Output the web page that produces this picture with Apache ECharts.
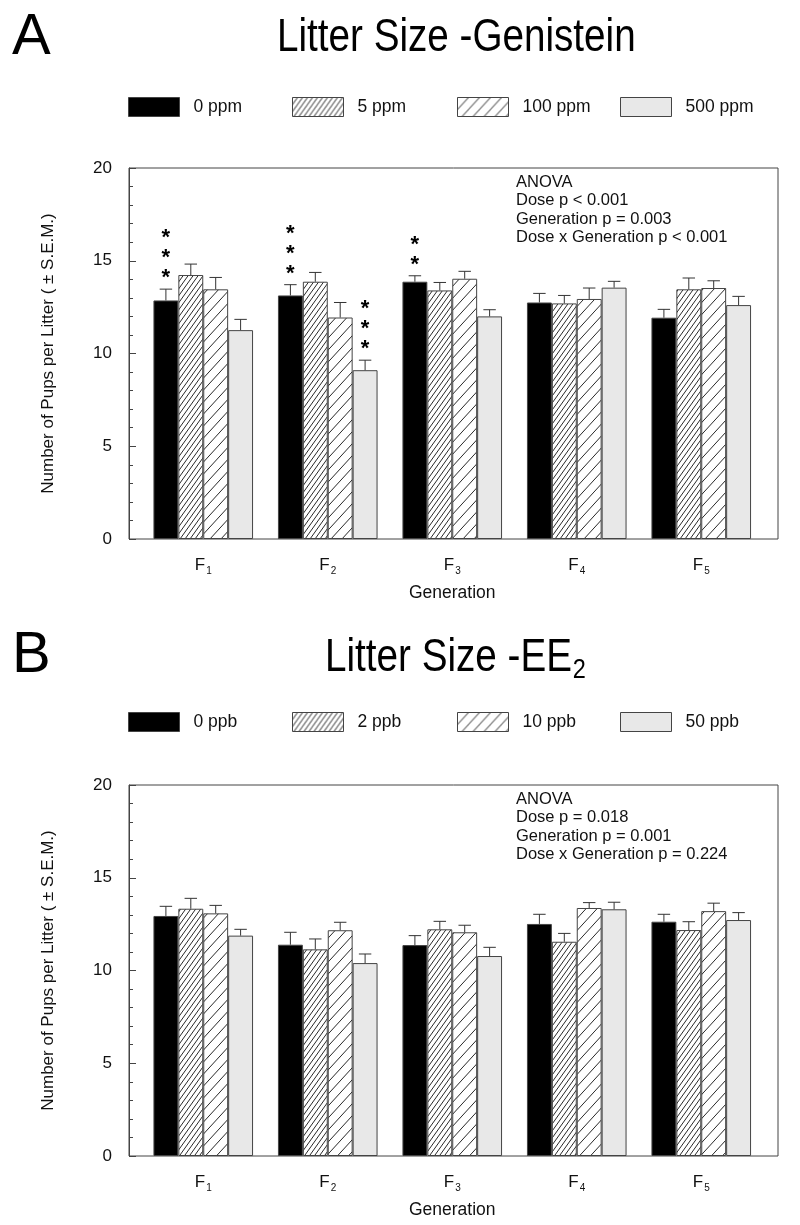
<!DOCTYPE html>
<html>
<head>
<meta charset="utf-8">
<script src="https://cdn.jsdelivr.net/npm/echarts@6/dist/echarts.min.js"></script>
<style>html,body{margin:0;padding:0;background:#fff}#c{width:800px;height:1225px}</style>
</head>
<body>
<div id="c"></div>
<script>
// ---------- data ----------
const categories = ['F1', 'F2', 'F3', 'F4', 'F5'];
const yTicks = [0, 5, 10, 15, 20];

// Panel A: Genistein
const namesA = ['0 ppm', '5 ppm', '100 ppm', '500 ppm'];
const meanA0 = [12.86, 13.13, 13.87, 12.75, 11.93];
const meanA5 = [14.23, 13.87, 13.40, 12.70, 13.46];
const meanA100 = [13.46, 11.94, 14.03, 12.94, 13.53];
const meanA500 = [11.26, 9.10, 12.00, 13.55, 12.61];
const semA0 = [0.61, 0.58, 0.32, 0.49, 0.45];
const semA5 = [0.59, 0.50, 0.43, 0.43, 0.61];
const semA100 = [0.64, 0.81, 0.40, 0.59, 0.39];
const semA500 = [0.58, 0.54, 0.36, 0.34, 0.47];
const starsA0 = [3, 3, 2, 0, 0];
const starsA5 = [0, 0, 0, 0, 0];
const starsA100 = [0, 0, 0, 0, 0];
const starsA500 = [0, 3, 0, 0, 0];
const anovaA = ['ANOVA', 'Dose p < 0.001', 'Generation p = 0.003', 'Dose x Generation p < 0.001'];

// Panel B: EE2
const namesB = ['0 ppb', '2 ppb', '10 ppb', '50 ppb'];
const meanB0 = [12.94, 11.39, 11.37, 12.51, 12.63];
const meanB2 = [13.33, 11.14, 12.22, 11.55, 12.18];
const meanB10 = [13.08, 12.17, 12.06, 13.37, 13.20];
const meanB50 = [11.88, 10.40, 10.78, 13.30, 12.72];
const semB0 = [0.52, 0.67, 0.51, 0.52, 0.40];
const semB2 = [0.56, 0.56, 0.43, 0.45, 0.45];
const semB10 = [0.43, 0.43, 0.38, 0.29, 0.43];
const semB50 = [0.34, 0.49, 0.47, 0.38, 0.40];
const starsB0 = [0, 0, 0, 0, 0];
const starsB2 = [0, 0, 0, 0, 0];
const starsB10 = [0, 0, 0, 0, 0];
const starsB50 = [0, 0, 0, 0, 0];
const anovaB = ['ANOVA', 'Dose p = 0.018', 'Generation p = 0.001', 'Dose x Generation p = 0.224'];

// ---------- styling ----------
const FONT = '"Liberation Sans", Arial, sans-serif';
const EDGE = '#444';

function hatch(w, h) {
  const c = document.createElement('canvas');
  c.width = w; c.height = h;
  const g = c.getContext('2d');
  g.fillStyle = '#fff';
  g.fillRect(0, 0, w, h);
  g.strokeStyle = '#111';
  g.lineWidth = 0.9;
  g.beginPath();
  g.moveTo(0, h); g.lineTo(w, 0);
  g.moveTo(-w, h); g.lineTo(w, -h);
  g.moveTo(0, 2 * h); g.lineTo(2 * w, 0);
  g.stroke();
  return { image: c, repeat: 'repeat' };
}
const fills = ['#000000', hatch(5, 7), hatch(11, 12), '#e8e8e8'];

function buildPanel(k, top, legendTop, names, means, sems, stars, anova) {
  const fx = 2 * k, dx = 2 * k + 1;
  const H = 371;
  const out = { grid: [], xAxis: [], yAxis: [], series: [], legend: [], title: [] };
  // frame grid
  out.grid.push({ left: 129, right: 22, top: top, height: H, show: true, borderColor: EDGE, borderWidth: 1, backgroundColor: 'transparent' });
  // data grid
  out.grid.push({ left: 141, right: 36.5, top: top, height: H });
  out.xAxis.push({ gridIndex: fx, type: 'value', min: 0, max: 1, show: false });
  out.xAxis.push({
    gridIndex: dx, type: 'category', data: categories,
    axisLine: { show: false }, axisTick: { show: false },
    axisLabel: {
      margin: 16, color: '#111', fontFamily: FONT, fontSize: 17,
      formatter: v => '{f|' + v.slice(0, 1) + '}{s|' + v.slice(1) + '}',
      rich: {
        f: { fontSize: 17, fontFamily: FONT, color: '#111' },
        s: { fontSize: 10, fontFamily: FONT, color: '#111', padding: [11, 0, 0, 1] }
      }
    },
    name: 'Generation', nameLocation: 'middle', nameGap: 45,
    nameTextStyle: { fontSize: 17.5, fontFamily: FONT, color: '#111' }
  });
  out.yAxis.push({
    gridIndex: fx, type: 'value', min: yTicks[0], max: yTicks[yTicks.length - 1],
    interval: yTicks[1] - yTicks[0],
    axisLine: { show: true, lineStyle: { color: EDGE } },
    axisTick: { show: true, inside: true, length: 7, lineStyle: { color: EDGE } },
    minorTick: { show: true, splitNumber: 5, length: 4, lineStyle: { color: EDGE } },
    splitLine: { show: false },
    axisLabel: { margin: 17, color: '#111', fontFamily: FONT, fontSize: 17 },
    name: 'Number of Pups per Litter ( \u00B1 S.E.M.)', nameLocation: 'middle', nameGap: 72,
    nameTextStyle: { fontSize: 17, fontFamily: FONT, color: '#111' }
  });
  out.yAxis.push({ gridIndex: dx, type: 'value', min: yTicks[0], max: yTicks[yTicks.length - 1], show: false });

  const errData = [];
  names.forEach((nm, d) => {
    out.series.push({
      type: 'bar', name: nm, xAxisIndex: dx, yAxisIndex: dx,
      data: means[d], barGap: '0%', barCategoryGap: '20%',
      itemStyle: { color: fills[d], borderColor: EDGE, borderWidth: 1 },
      emphasis: { disabled: true }, animation: false
    });
    means[d].forEach((m, i) => errData.push([i, m, sems[d][i], d, stars[d][i]]));
  });
  out.series.push({
    type: 'custom', xAxisIndex: dx, yAxisIndex: dx, z: 5, silent: true, animation: false,
    data: errData, encode: { x: 0, y: 1 },
    renderItem: function (params, api) {
      const c = api.value(0), m = api.value(1), e = api.value(2), d = api.value(3), s = api.value(4);
      const p0 = api.coord([c, m]);
      const p1 = api.coord([c, m + e]);
      const band = api.size([1, 0])[0];
      const bw = band * 0.2;
      const x = p0[0] + (d - 1.5) * bw;
      const cap = bw * 0.25;
      const st = { stroke: '#333', lineWidth: 1 };
      const ch = [
        { type: 'line', shape: { x1: x, y1: p0[1], x2: x, y2: p1[1] }, style: st },
        { type: 'line', shape: { x1: x - cap, y1: p1[1], x2: x + cap, y2: p1[1] }, style: st }
      ];
      if (s > 0) {
        ch.push({
          type: 'text',
          style: {
            text: new Array(s).fill('*').join('\n'), x: x, y: p1[1] - 1,
            align: 'center', verticalAlign: 'bottom', fontSize: 22, lineHeight: 20,
            fontWeight: 'bold', fontFamily: FONT, fill: '#000'
          }
        });
      }
      return { type: 'group', children: ch };
    }
  });

  const legendLefts = [123, 287, 452, 615];
  names.forEach((nm, d) => {
    out.legend.push({
      data: [nm], left: legendLefts[d], top: legendTop, icon: 'rect',
      itemWidth: 51, itemHeight: 19, selectedMode: false,
      itemStyle: { borderColor: EDGE, borderWidth: 1 },
      textStyle: { fontSize: 17.5, fontFamily: FONT, color: '#111', padding: [0, 0, 0, 9] }
    });
  });
  out.title.push({
    text: anova.join('\n'), left: 511, top: top,
    textStyle: { fontSize: 16.5, lineHeight: 18.5, fontWeight: 'normal', fontFamily: FONT, color: '#111' }
  });
  return out;
}

const pA = buildPanel(0, 168, 92, namesA,
  [meanA0, meanA5, meanA100, meanA500], [semA0, semA5, semA100, semA500],
  [starsA0, starsA5, starsA100, starsA500], anovaA);
const pB = buildPanel(1, 785, 707, namesB,
  [meanB0, meanB2, meanB10, meanB50], [semB0, semB2, semB10, semB50],
  [starsB0, starsB2, starsB10, starsB50], anovaB);

const option = { animation: false, backgroundColor: '#fff' };
['grid', 'xAxis', 'yAxis', 'series', 'legend', 'title'].forEach(key => {
  option[key] = pA[key].concat(pB[key]);
});

// headings (condensed face emulated by horizontal scaling)
const SX = 0.84;
option.graphic = [
  { type: 'text', x: 12, y: 9, style: { text: 'A', fontSize: 58, fontFamily: FONT, fill: '#000' } },
  { type: 'text', x: 277, y: 15, scaleX: SX, style: { text: 'Litter Size -Genistein', fontSize: 46, fontFamily: FONT, fill: '#000' } },
  { type: 'text', x: 12, y: 627, style: { text: 'B', fontSize: 58, fontFamily: FONT, fill: '#000' } },
  {
    type: 'text', x: 325, y: 632, scaleX: SX,
    style: {
      text: 'Litter Size -EE{s|2}', fontSize: 46, fontFamily: FONT, fill: '#000',
      rich: { s: { fontSize: 28, fontFamily: FONT, fill: '#000', padding: [24, 0, 0, 1] } }
    }
  }
];

const chart = echarts.init(document.getElementById('c'), null, { renderer: 'canvas' });
chart.setOption(option);
</script>
</body>
</html>
